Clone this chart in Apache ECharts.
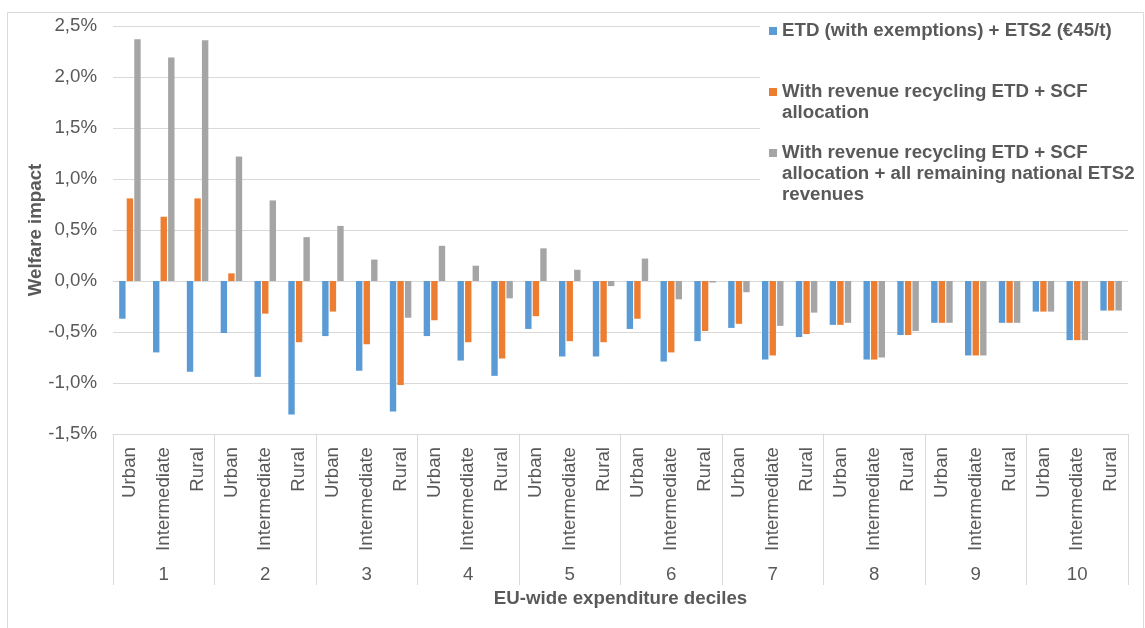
<!DOCTYPE html>
<html>
<head>
<meta charset="utf-8">
<title>Welfare impact by EU-wide expenditure decile</title>
<script src="https://cdn.jsdelivr.net/npm/echarts@6/dist/echarts.min.js"></script>
<style>
  html, body { margin: 0; padding: 0; background: #ffffff; }
  #chart { width: 1145px; height: 628px; }
</style>
</head>
<body>
<div id="chart"></div>
<script>
// Outer category level (deciles) and inner level (degree of urbanisation)
const deciles = ['1', '2', '3', '4', '5', '6', '7', '8', '9', '10'];
const areas = ['Urban', 'Intermediate', 'Rural'];

// Series names and their wrapped legend lines
const seriesNames = [
  'ETD (with exemptions) + ETS2 (€45/t)',
  'With revenue recycling ETD + SCF allocation',
  'With revenue recycling ETD + SCF allocation + all remaining national ETS2 revenues'
];
const legendLines = [
  ['ETD (with exemptions) + ETS2 (€45/t)'],
  ['With revenue recycling ETD + SCF', 'allocation'],
  ['With revenue recycling ETD + SCF', 'allocation + all remaining national ETS2', 'revenues']
];

// Welfare impact in % (decile 1 Urban, Intermediate, Rural, decile 2 ...)
const etdEts2 = [
  -0.37, -0.70, -0.89,
  -0.51, -0.94, -1.31,
  -0.54, -0.88, -1.28,
  -0.54, -0.78, -0.93,
  -0.47, -0.74, -0.74,
  -0.47, -0.79, -0.59,
  -0.46, -0.77, -0.55,
  -0.43, -0.77, -0.53,
  -0.41, -0.73, -0.41,
  -0.30, -0.58, -0.29
];
const withScf = [
   0.81,  0.63,  0.81,
   0.075, -0.32, -0.60,
  -0.30, -0.62, -1.02,
  -0.385, -0.60, -0.76,
  -0.345, -0.59, -0.60,
  -0.37, -0.70, -0.49,
  -0.42, -0.73, -0.52,
  -0.43, -0.77, -0.53,
  -0.41, -0.73, -0.41,
  -0.30, -0.58, -0.29
];
const withAllEts2 = [
   2.37,  2.19,  2.36,
   1.22,  0.79,  0.43,
   0.54,  0.21, -0.36,
   0.345, 0.15, -0.17,
   0.32,  0.11, -0.05,
   0.22, -0.18, -0.015,
  -0.11, -0.44, -0.31,
  -0.41, -0.75, -0.49,
  -0.41, -0.73, -0.41,
  -0.30, -0.58, -0.29
];

// Value axis range in %
const yMin = -1.5;
const yMax = 2.5;
const yStep = 0.5;

const colors = ['#5B9BD5', '#ED7D31', '#A5A5A5'];
const values = [etdEts2, withScf, withAllEts2];

const FONT = '"Liberation Sans", Arial, sans-serif';
const TEXT = '#595959';
const LINE = '#d9d9d9';
const FS = 18.7;
const LH = 21;

// One unique key per bar slot: "<decile>|<area>"
const categories = [];
deciles.forEach(d => areas.forEach(a => categories.push(d + '|' + a)));

// Legend text is centred on its swatch, so blank lines are put in front of
// multi-line entries to keep the swatch level with the first text line.
const legendIconCenters = [31, 92, 153];
const legends = seriesNames.map((name, i) => {
  const lines = legendLines[i];
  const n = lines.length;
  const padded = new Array(n - 1).fill('').concat(lines);
  return {
    data: [name],
    left: 769,
    top: legendIconCenters[i] - (2 * n - 1) * LH / 2,
    padding: 0,
    icon: 'rect',
    itemWidth: 8,
    itemHeight: 8,
    selectedMode: false,
    formatter: () => padded.join('\n'),
    textStyle: {
      fontFamily: FONT,
      fontSize: FS,
      fontWeight: 'bold',
      color: TEXT,
      lineHeight: LH
    }
  };
});

const chart = echarts.init(document.getElementById('chart'), null, { renderer: 'canvas' });

chart.setOption({
  animation: false,
  backgroundColor: '#ffffff',
  textStyle: { fontFamily: FONT },
  grid: { left: 113, right: 17, top: 26, bottom: 194, containLabel: false, outerBoundsMode: 'none' },
  legend: legends,
  graphic: [
    {
      type: 'rect',
      silent: true,
      z: 0,
      shape: { x: 7.5, y: 12.5, width: 1136, height: 640 },
      style: { fill: 'none', stroke: LINE, lineWidth: 1 }
    },
    {
      // white panel behind the legend, hiding the gridlines there
      type: 'rect',
      silent: true,
      z: 1,
      shape: { x: 760, y: 13, width: 383, height: 192 },
      style: { fill: '#ffffff' }
    }
  ],
  xAxis: [
    {
      type: 'category',
      data: categories,
      position: 'bottom',
      axisLine: { onZero: false, lineStyle: { color: LINE, width: 1 } },
      axisTick: { show: false },
      splitLine: { show: false },
      axisLabel: {
        interval: 0,
        rotate: 90,
        margin: 13,
        fontSize: FS,
        color: TEXT,
        fontFamily: FONT,
        formatter: v => v.split('|')[1]
      }
    },
    {
      type: 'category',
      data: deciles,
      position: 'bottom',
      axisLine: { show: false, onZero: false },
      axisTick: { show: true, interval: 0, length: 151, lineStyle: { color: LINE, width: 1 } },
      splitLine: { show: false },
      axisLabel: { interval: 0, margin: 131, fontSize: FS, color: TEXT, fontFamily: FONT },
      name: 'EU-wide expenditure deciles',
      nameLocation: 'middle',
      nameGap: 155,
      nameMoveOverlap: false,
      nameTextStyle: { fontSize: FS, fontWeight: 'bold', color: TEXT, fontFamily: FONT }
    }
  ],
  yAxis: {
    type: 'value',
    min: yMin,
    max: yMax,
    interval: yStep,
    axisLine: { show: false },
    axisTick: { show: false },
    splitLine: { lineStyle: { color: LINE, width: 1 } },
    axisLabel: {
      margin: 16,
      fontSize: FS,
      color: TEXT,
      fontFamily: FONT,
      formatter: v => v.toFixed(1).replace('.', ',') + '%'
    },
    name: 'Welfare impact',
    nameLocation: 'middle',
    nameRotate: 90,
    nameGap: 68,
    nameMoveOverlap: false,
    nameTextStyle: { fontSize: FS, fontWeight: 'bold', color: TEXT, fontFamily: FONT }
  },
  series: seriesNames.map((name, i) => ({
    name: name,
    type: 'bar',
    xAxisIndex: 0,
    data: values[i],
    barWidth: 6.4,
    barGap: '18%',
    itemStyle: { color: colors[i] }
  }))
});
</script>
</body>
</html>
